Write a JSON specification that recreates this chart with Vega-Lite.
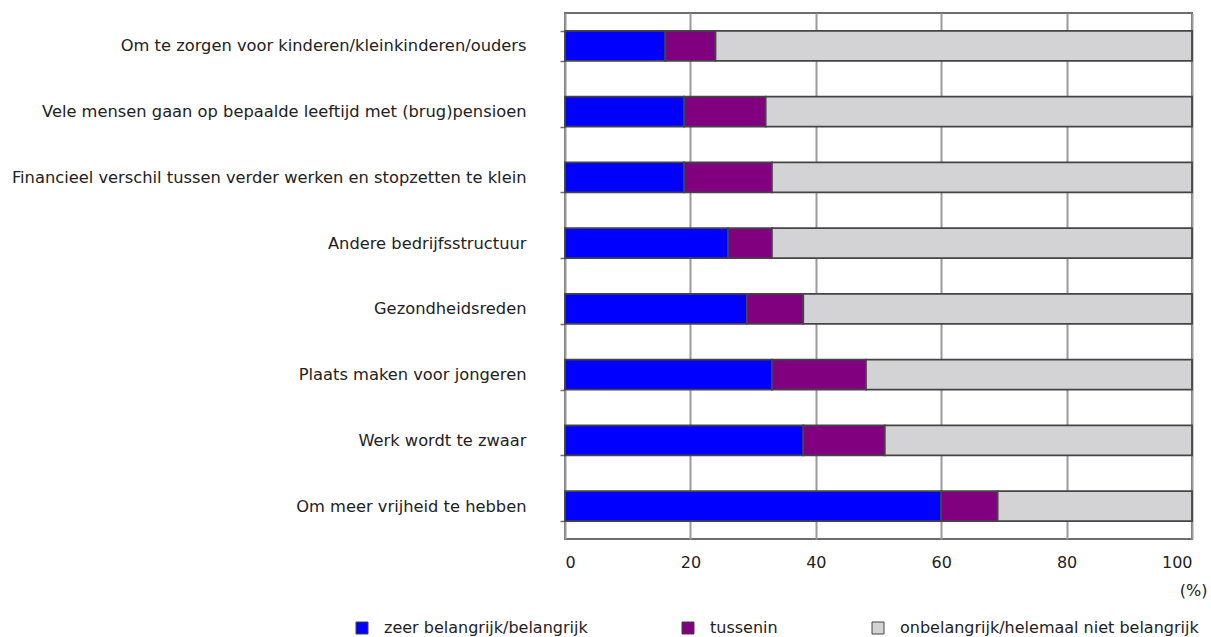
{
  "$schema": "https://vega.github.io/schema/vega-lite/v6.json",
  "autosize": "none",
  "width": 627,
  "height": 526,
  "padding": {"left": 565, "top": 13, "right": 19, "bottom": 98},
  "background": "white",
  "config": {
    "font": "DejaVu Sans",
    "view": {"stroke": "#6e6e6e", "strokeWidth": 2}
  },
  "data": {
    "values": [
      {"reden": "Om te zorgen voor kinderen/kleinkinderen/ouders", "antwoord": "zeer belangrijk/belangrijk", "volgorde": 1, "pct": 16},
      {"reden": "Om te zorgen voor kinderen/kleinkinderen/ouders", "antwoord": "tussenin", "volgorde": 2, "pct": 8},
      {"reden": "Om te zorgen voor kinderen/kleinkinderen/ouders", "antwoord": "onbelangrijk/helemaal niet belangrijk", "volgorde": 3, "pct": 76},
      {"reden": "Vele mensen gaan op bepaalde leeftijd met (brug)pensioen", "antwoord": "zeer belangrijk/belangrijk", "volgorde": 1, "pct": 19},
      {"reden": "Vele mensen gaan op bepaalde leeftijd met (brug)pensioen", "antwoord": "tussenin", "volgorde": 2, "pct": 13},
      {"reden": "Vele mensen gaan op bepaalde leeftijd met (brug)pensioen", "antwoord": "onbelangrijk/helemaal niet belangrijk", "volgorde": 3, "pct": 68},
      {"reden": "Financieel verschil tussen verder werken en stopzetten te klein", "antwoord": "zeer belangrijk/belangrijk", "volgorde": 1, "pct": 19},
      {"reden": "Financieel verschil tussen verder werken en stopzetten te klein", "antwoord": "tussenin", "volgorde": 2, "pct": 14},
      {"reden": "Financieel verschil tussen verder werken en stopzetten te klein", "antwoord": "onbelangrijk/helemaal niet belangrijk", "volgorde": 3, "pct": 67},
      {"reden": "Andere bedrijfsstructuur", "antwoord": "zeer belangrijk/belangrijk", "volgorde": 1, "pct": 26},
      {"reden": "Andere bedrijfsstructuur", "antwoord": "tussenin", "volgorde": 2, "pct": 7},
      {"reden": "Andere bedrijfsstructuur", "antwoord": "onbelangrijk/helemaal niet belangrijk", "volgorde": 3, "pct": 67},
      {"reden": "Gezondheidsreden", "antwoord": "zeer belangrijk/belangrijk", "volgorde": 1, "pct": 29},
      {"reden": "Gezondheidsreden", "antwoord": "tussenin", "volgorde": 2, "pct": 9},
      {"reden": "Gezondheidsreden", "antwoord": "onbelangrijk/helemaal niet belangrijk", "volgorde": 3, "pct": 62},
      {"reden": "Plaats maken voor jongeren", "antwoord": "zeer belangrijk/belangrijk", "volgorde": 1, "pct": 33},
      {"reden": "Plaats maken voor jongeren", "antwoord": "tussenin", "volgorde": 2, "pct": 15},
      {"reden": "Plaats maken voor jongeren", "antwoord": "onbelangrijk/helemaal niet belangrijk", "volgorde": 3, "pct": 52},
      {"reden": "Werk wordt te zwaar", "antwoord": "zeer belangrijk/belangrijk", "volgorde": 1, "pct": 38},
      {"reden": "Werk wordt te zwaar", "antwoord": "tussenin", "volgorde": 2, "pct": 13},
      {"reden": "Werk wordt te zwaar", "antwoord": "onbelangrijk/helemaal niet belangrijk", "volgorde": 3, "pct": 49},
      {"reden": "Om meer vrijheid te hebben", "antwoord": "zeer belangrijk/belangrijk", "volgorde": 1, "pct": 60},
      {"reden": "Om meer vrijheid te hebben", "antwoord": "tussenin", "volgorde": 2, "pct": 9},
      {"reden": "Om meer vrijheid te hebben", "antwoord": "onbelangrijk/helemaal niet belangrijk", "volgorde": 3, "pct": 31}
    ]
  },
  "mark": {"type": "bar", "stroke": "#444444", "strokeWidth": 1.8},
  "encoding": {
    "y": {
      "field": "reden",
      "type": "nominal",
      "sort": null,
      "scale": {"paddingInner": 0.545, "paddingOuter": 0.2725},
      "axis": {
        "title": null,
        "domain": false,
        "tickBand": "extent",
        "tickSize": 5,
        "tickWidth": 1.5,
        "tickColor": "#6e6e6e",
        "labelPadding": 34,
        "labelFontSize": 16.3,
        "labelColor": "#222222",
        "labelLimit": 600
      }
    },
    "x": {
      "field": "pct",
      "type": "quantitative",
      "stack": "zero",
      "scale": {"domain": [0, 100], "nice": false},
      "axis": {
        "values": [0, 20, 40, 60, 80, 100],
        "grid": true,
        "gridColor": "#9a9a9a",
        "gridWidth": 2,
        "domain": false,
        "ticks": false,
        "labelPadding": 15,
        "labelFontSize": 16,
        "labelColor": "#222222",
        "title": "(%)",
        "titleFontSize": 16,
        "titleFontWeight": "normal",
        "titleColor": "#222222",
        "titleAnchor": "end",
        "titleAlign": "right",
        "titleBaseline": "middle",
        "titleX": 642,
        "titleY": 51
      }
    },
    "color": {
      "field": "antwoord",
      "type": "nominal",
      "sort": ["zeer belangrijk/belangrijk", "tussenin", "onbelangrijk/helemaal niet belangrijk"],
      "scale": {
        "domain": ["zeer belangrijk/belangrijk", "tussenin", "onbelangrijk/helemaal niet belangrijk"],
        "range": ["#0000ff", "#800080", "#d3d3d5"]
      },
      "legend": {
        "title": null,
        "orient": "none",
        "direction": "horizontal",
        "legendX": -211,
        "legendY": 607,
        "symbolType": "square",
        "symbolSize": 144,
        "symbolStrokeColor": "#444444",
        "symbolStrokeWidth": 1,
        "symbolOpacity": 1,
        "labelFontSize": 16,
        "labelColor": "#222222",
        "labelLimit": 400,
        "columnPadding": 92,
        "labelOffset": 14
      }
    },
    "order": {"field": "volgorde", "type": "quantitative"}
  }
}
